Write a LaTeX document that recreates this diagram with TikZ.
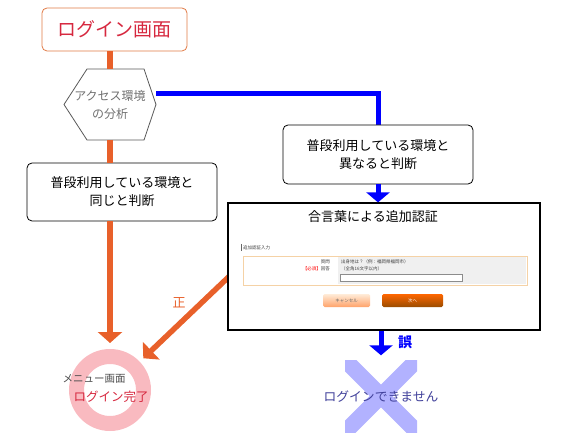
\documentclass[tikz,border=0pt]{standalone}
\usepackage{fontspec}
\setmainfont{Noto Sans CJK JP}
\usetikzlibrary{arrows.meta,calc,backgrounds}
\definecolor{orangeL}{HTML}{E8602A}
\definecolor{titleB}{HTML}{E07A45}
\definecolor{titleT}{HTML}{D6283F}
\definecolor{blueL}{HTML}{0000FF}
\definecolor{pinkR}{HTML}{F9BAC0}
\definecolor{xcol}{HTML}{B2B2FF}
\definecolor{ngT}{HTML}{40409A}
\definecolor{formB}{HTML}{F5D2A6}
\definecolor{hexT}{HTML}{707070}
\begin{document}
\begin{tikzpicture}[x=1pt,y=-1pt,
  oline/.style={draw=orangeL,line width=5.5pt},
  bline/.style={draw=blueL,line width=5pt},
  otip/.style={-{Triangle[length=11pt,width=24pt]}},
  btip/.style={-{Triangle[length=10pt,width=23pt]}},
  jbox/.style={draw=black,rounded corners=5pt,fill=white,align=center,line width=0.8pt,
    font=\fontsize{13}{18}\selectfont,minimum width=190pt,inner sep=0pt},
  tiny/.style={font=\fontsize{4.5}{5}\selectfont,inner sep=0pt,text=black!75}]
\useasboundingbox (0,0) rectangle (580,435);

% nodes
\node[draw=titleB,line width=0.8pt,rounded corners=5pt,minimum width=145pt,minimum height=43pt,
  text=titleT,font=\fontsize{19}{19}\selectfont,inner sep=0pt] (login) at (114.5,29.5) {ログイン画面};
\node[minimum width=92pt,minimum height=71pt,inner sep=0pt,outer sep=0pt] (hex) at (110,104.5) {};
\node[jbox,minimum height=58pt] (same) at (122,192) {普段利用している環境と\\同じと判断};
\node[jbox,minimum height=59pt] (diff) at (378,154.5) {普段利用している環境と\\異なると判断};
\node[draw=black,line width=1.2pt,fill=white,minimum width=312pt,minimum height=127pt,inner sep=0pt] (screen) at (384,266.5) {};
\node[circle,draw=pinkR,line width=15pt,minimum size=67pt,inner sep=0pt] (done) at (110,390) {};
\begin{scope}
  \clip (345,360) rectangle (417,432);
  \draw[xcol,line width=16pt] (335,350) -- (427,442) (335,442) -- (427,350);
\end{scope}
\node[minimum size=72pt,inner sep=0pt,text=ngT,font=\fontsize{12.8}{13}\selectfont] (ng) at (381,396.5) {ログインできません};

% connectors behind
\begin{scope}[on background layer]
  \draw[bline] (hex.13) -| (diff.north);
  \draw[oline,otip,shorten >=5pt] ($(screen.west)+(8,4)$) -- (done);
\end{scope}

% hexagon
\filldraw[fill=white,draw=black!65,line width=0.8pt] (hex.west) -- ($(hex.north west)+(23,0)$) -- ($(hex.north east)+(-12,0)$) -- (hex.east) -- ($(hex.south east)+(-12,0)$) -- ($(hex.south west)+(23,0)$) -- cycle;
\node[align=center,text=hexT,font=\fontsize{12}{18}\selectfont] at (hex) {アクセス環境\\の分析};

% orange connectors
\draw[oline] (login.south -| hex.north) -- (hex.north);
\draw[oline] (hex.south) -- (hex.south |- same.north);
\draw[oline,otip,shorten >=6pt] (hex.south |- same.south) -- (done.north);

% blue connectors
\draw[bline,btip] (diff.south) -- (diff.south |- screen.north);
\draw[bline,btip,shorten >=5pt] (screen.south -| ng.north) -- (ng.north);

% labels
\node[text=orangeL,font=\fontsize{13}{13}\selectfont] at (179,303) {正};
\node[text=blueL,font=\bfseries\fontsize{14}{14}\selectfont] at (405,342) {誤};
\node[text=black!70,font=\fontsize{10.5}{11}\selectfont] at (94,379) {メニュー画面};
\node[text=titleT,font=\fontsize{12.5}{13}\selectfont] at (111,397) {ログイン完了};

% screen contents
\node[font=\fontsize{13}{13}\selectfont] at (373,217) {合言葉による追加認証};
\draw[black!60,line width=0.6pt] (241,244) -- (241,251);
\node[tiny,anchor=west] at (243,247.5) {追加認証入力};
\draw[draw=formB,line width=0.9pt,fill=white] (243,256) rectangle (527,285);
\fill[black!6] (338,257) rectangle (526,284);
\draw[fill=white,draw=black!45,line width=0.4pt] (340,274) rectangle (462,281);
\node[tiny,anchor=east] at (330,262) {質問};
\node[tiny,anchor=west] at (341,262) {出身地は？（例：福岡県福岡市）};
\node[tiny,anchor=east] at (330,269) {\textcolor{red}{【必須】}回答};
\node[tiny,anchor=west] at (341,269) {（全角16文字以内）};
\shade[top color=orange!15,bottom color=orange!45!pink,rounded corners=1.5pt] (323,294) rectangle (370,307);
\node[tiny,text=black!60] at (346.5,300.5) {キャンセル};
\shade[top color=orange!80!red,bottom color=orange!60!black,rounded corners=1.5pt] (382,294) rectangle (443,307);
\node[tiny,text=white] at (412.5,300.5) {次へ};
\end{tikzpicture}
\end{document}
